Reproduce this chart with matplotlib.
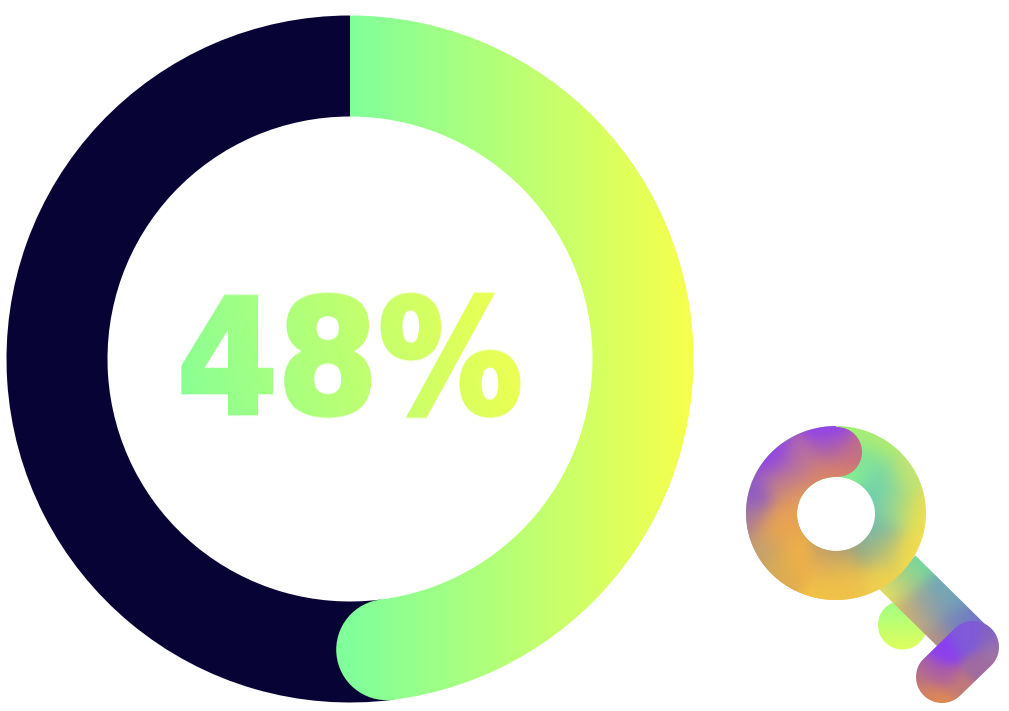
import numpy as np
import matplotlib
matplotlib.use("Agg")
import matplotlib.pyplot as plt
from matplotlib.patches import Wedge, Circle, Polygon, PathPatch
from matplotlib.path import Path
from matplotlib.colors import to_rgb
import matplotlib.patheffects as pe

# ---- data ----
percent = 48
label = "48%"

# ---- colours ----
track_color = "#080335"
grad_start = "#80FF9A"
grad_end = "#F7FF4C"

W, H = 1009, 711
fig = plt.figure(figsize=(W / 100, H / 100), dpi=100, facecolor="white")
ax = fig.add_axes([0, 0, 1, 1])
ax.axis("off")

CX, CY, R_OUT, R_IN = 350, 359, 343.5, 242.5
R_MID = (R_OUT + R_IN) / 2
BAND = R_OUT - R_IN


def lerp_image(c0, c1, t):
    c0, c1 = np.array(to_rgb(c0)), np.array(to_rgb(c1))
    t = np.clip(t, 0, 1)[..., None]
    return c0 * (1 - t) + c1 * t


def show_clipped(img, extent, patch):
    patch.set_transform(ax.transData)
    im = ax.imshow(img, extent=extent, origin="upper", aspect="auto",
                   interpolation="bilinear", zorder=len(ax.images) + 2)
    im.set_clip_path(patch)
    return im


def soft_field(points, bbox, sigma, step=1.0):
    x0, x1, y0, y1 = bbox
    xs = np.arange(x0, x1 + step, step)
    ys = np.arange(y0, y1 + step, step)
    X, Y = np.meshgrid(xs, ys)
    px = np.array([p[0] for p in points], float)
    py = np.array([p[1] for p in points], float)
    cols = np.array([to_rgb(p[2]) for p in points])
    d2 = (X[..., None] - px) ** 2 + (Y[..., None] - py) ** 2
    w = np.exp(-d2 / (2 * sigma ** 2)) + 1e-12
    img = (w[..., None] * cols).sum(axis=2) / w.sum(axis=2, keepdims=True)
    return img, (xs[0], xs[-1], ys[-1], ys[0]), X, Y


# ---- main gauge ----
end_theta = -90 + percent / 100 * 360
ax.add_patch(Wedge((CX, CY), R_OUT, end_theta, 270, width=BAND, facecolor=track_color,
                   edgecolor="none", zorder=1))

xg = np.arange(CX - 20, CX + R_OUT + 2, 2.0)
ring_img = lerp_image(grad_start, grad_end, (xg - CX) / R_OUT)[None, :, :]
ring_ext = (xg[0], xg[-1], CY + R_OUT + 2, CY - R_OUT - 2)
show_clipped(ring_img, ring_ext, Wedge((CX, CY), R_OUT, -90, end_theta, width=BAND))
t = np.deg2rad(end_theta)
show_clipped(ring_img, ring_ext,
             Circle((CX + R_MID * np.cos(t), CY + R_MID * np.sin(t)), BAND / 2))


# ---- gradient label, kept as real text ----
STRETCH = 1.1


def text_gradient(img, dpi):
    h, w = img.shape[:2]
    nh = int(round(h * STRETCH))
    idx = np.clip(((np.arange(nh) + 0.5) / STRETCH - 0.5), 0, h - 1)
    i0 = np.floor(idx).astype(int)
    i1 = np.minimum(i0 + 1, h - 1)
    f = (idx - i0)[:, None, None]
    out = img[i0] * (1 - f) + img[i1] * f
    yy, xx = np.mgrid[0:nh, 0:w]
    tt = (xx / max(w - 1, 1)) * 0.92 + (1 - yy / max(nh - 1, 1)) * 0.08
    out[..., :3] = lerp_image("#88FF96", "#F2FF4E", tt)
    return out, 0, -(nh - h) // 2


txt = ax.text(350, 408, label, ha="center", va="baseline", fontsize=104,
              fontweight="bold", family="DejaVu Sans", color="#C0FF70", zorder=20,
              path_effects=[pe.Stroke(linewidth=3.2, foreground="#C0FF70", joinstyle="miter"),
                            pe.Normal()])
txt.set_agg_filter(text_gradient)

# ---- key illustration ----
circle_pts = [(902, 601, "#8CFF92"), (902, 649, "#F2FF50")]
shaft_pts = [(915, 558, "#70D8A0"), (950, 590, "#6FA8B8"), (990, 628, "#7A70D0"),
             (880, 590, "#E8E060"), (910, 620, "#D0B070"), (938, 647, "#B89080"),
             (898, 574, "#B0D080"), (930, 608, "#8FA0A8"), (960, 625, "#7080C0")]
ring_right_pts = [(853, 430, "#A5F078"), (883, 440, "#B5EC6E"), (867, 460, "#7FE29C"),
                  (847, 473, "#88F090"), (883, 480, "#74D5A8"), (907, 473, "#C5E570"),
                  (873, 503, "#6FCDB0"), (897, 507, "#A5D888"), (922, 513, "#EDE050"),
                  (873, 533, "#72B8AE"), (857, 550, "#96A685"), (883, 550, "#C0C070"),
                  (910, 557, "#F2DC4E"), (880, 580, "#F0D24E"), (845, 577, "#EFC04C"),
                  (833, 553, "#B59B72")]
ring_left_pts = [(830, 430, "#8F3FF5"), (773, 457, "#8F45E8"), (750, 493, "#8E5AC8"),
                 (748, 520, "#A87A98"), (760, 553, "#C0A070"), (773, 530, "#EAA650"),
                 (797, 503, "#E8A055"), (817, 480, "#DC8A65"), (840, 473, "#DC8565"),
                 (860, 453, "#C87080"), (833, 450, "#B066A0"), (800, 463, "#B870A0"),
                 (783, 483, "#C07F88"), (797, 560, "#F0B048"), (777, 570, "#D8AC55"),
                 (833, 593, "#F2C545"), (833, 570, "#EFB84C"), (833, 553, "#B59B72"),
                 (845, 577, "#EFC04C")]
pill_pts = [(943, 653, "#8B3FF0"), (967, 640, "#7F5ADA"), (993, 637, "#8060C8"),
            (998, 648, "#A078A0"), (980, 667, "#A06BA0"), (960, 690, "#C07A78"),
            (943, 677, "#AF60A0"), (927, 670, "#A85FA8"), (918, 680, "#C07878"),
            (943, 700, "#E28A50"), (927, 693, "#D4845F")]

OX, OY, ORX, ORY = 836, 513, 90, 87
IX, IY, IRX, IRY = 836, 514, 39, 37


def ring_path():
    a = np.linspace(0, 2 * np.pi, 200)
    outer = np.c_[OX + ORX * np.cos(a), OY + ORY * np.sin(a)]
    inner = np.c_[IX + IRX * np.cos(a[::-1]), IY + IRY * np.sin(a[::-1])]
    return Path.make_compound_path(Path(outer, closed=True), Path(inner, closed=True))


def left_ring_path():
    a = np.deg2rad(np.linspace(40, 270, 180))
    outer = np.c_[OX + ORX * np.cos(a), OY + ORY * np.sin(a)]
    inner = np.c_[IX + IRX * np.cos(a[::-1]), IY + IRY * np.sin(a[::-1])]
    return Path(np.r_[outer, inner], closed=True)


def pill_path(p0, p1, r):
    p0, p1 = np.array(p0, float), np.array(p1, float)
    base = np.arctan2(*(p1 - p0)[::-1])
    b1 = np.linspace(base - np.pi / 2, base + np.pi / 2, 30)
    b0 = np.linspace(base + np.pi / 2, base + 3 * np.pi / 2, 30)
    return Path(np.r_[p1 + r * np.c_[np.cos(b1), np.sin(b1)],
                      p0 + r * np.c_[np.cos(b0), np.sin(b0)]], closed=True)


img, ext, _, _ = soft_field(circle_pts, (876, 930, 598, 652), 30)
show_clipped(img, ext, Circle((902.5, 625), 24.5))

img, ext, _, _ = soft_field(shaft_pts, (870, 1000, 550, 655), 14)
show_clipped(img, ext, Polygon([(915.5, 555.5), (993, 632), (938, 647), (879, 589)], closed=True))

img, ext, _, _ = soft_field(ring_right_pts, (744, 928, 424, 602), 13)
show_clipped(img, ext, PathPatch(ring_path()))

# purple stroke fades into the right-hand colours along the lower part of the ring
img, ext, X, Y = soft_field(ring_left_pts, (744, 928, 424, 602), 13)
theta = np.degrees(np.arctan2(Y - OY, X - OX)) % 360
alpha = np.clip((theta - 55) / 50, 0, 1)
rgba = np.dstack([img, alpha])
show_clipped(rgba, ext, PathPatch(left_ring_path()))
show_clipped(rgba, ext, Circle((837, 452), 25))

img, ext, _, _ = soft_field(pill_pts, (912, 1002, 620, 706), 9)
show_clipped(img, ext, PathPatch(pill_path((942, 677), (973, 647), 26)))

ax.set_xlim(0, W)
ax.set_ylim(H, 0)
fig.savefig("out.png", dpi=100, facecolor="white")
